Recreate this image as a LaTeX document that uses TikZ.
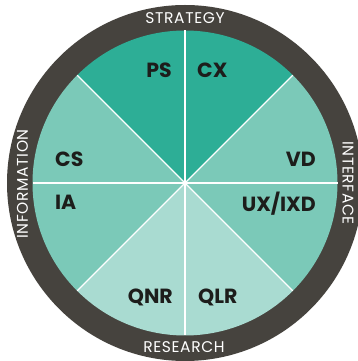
\documentclass[tikz,border=0pt]{standalone}
\usepackage{fontspec}
\newfontfamily\labfont{Poppins}
\newfontfamily\ringfont[LetterSpace=4]{Poppins}
\definecolor{ringc}{HTML}{46433E}
\definecolor{tdark}{HTML}{2DAE96}
\definecolor{tmid}{HTML}{7BC9B8}
\definecolor{tlight}{HTML}{A9DBD1}
\definecolor{txt}{HTML}{1D1D1B}
\tikzset{
  lab/.style={font=\labfont\bfseries\fontsize{20.5}{20.5}\selectfont, text=txt, inner sep=0pt},
  ringlab/.style={font=\ringfont\fontsize{15.5}{15.5}\selectfont, text=white, inner sep=0pt},
  divider/.style={draw=white, line width=1.1pt}
}
\begin{document}
\begin{tikzpicture}[x=1pt,y=1pt]
\useasboundingbox (0,0) rectangle (358,361);
\coordinate (c) at (185,178);
\fill[ringc] (c) circle[radius=178];
\def\R{152.5}
\fill[tdark] (c) -- ++(45:\R) arc[start angle=45,end angle=135,radius=\R] -- cycle;
\fill[tmid] (c) -- ++(135:\R) arc[start angle=135,end angle=225,radius=\R] -- cycle;
\fill[tmid] (c) -- ++(-45:\R) arc[start angle=-45,end angle=45,radius=\R] -- cycle;
\fill[tlight] (c) -- ++(225:\R) arc[start angle=225,end angle=315,radius=\R] -- cycle;
\foreach \a in {0,45,...,315} {
  \draw[divider] (c) -- ++(\a:\R);
}
\node[lab, anchor=base east] (ps) at (172,283.5) {PS};
\node[lab, anchor=base west] (cx) at (197,283.5) {CX};
\node[lab, anchor=base west] (cs) at (55,194) {CS};
\node[lab, anchor=base west] (ia) at (55,151.5) {IA};
\node[lab, anchor=base east] (vd) at (316,194) {VD};
\node[lab, anchor=base east] (ux) at (316,149.5) {UX/IXD};
\node[lab, anchor=base east] (qnr) at (173,57) {QNR};
\node[lab, anchor=base west] (qlr) at (198,57) {QLR};
\node[ringlab] (strat) at (185,343) {STRATEGY};
\node[ringlab] (res) at (184,13.5) {RESEARCH};
\node[ringlab, rotate=90] (info) at (22.5,177) {INFORMATION};
\node[ringlab, rotate=-90] (intf) at (348,178) {INTERFACE};
\end{tikzpicture}
\end{document}
